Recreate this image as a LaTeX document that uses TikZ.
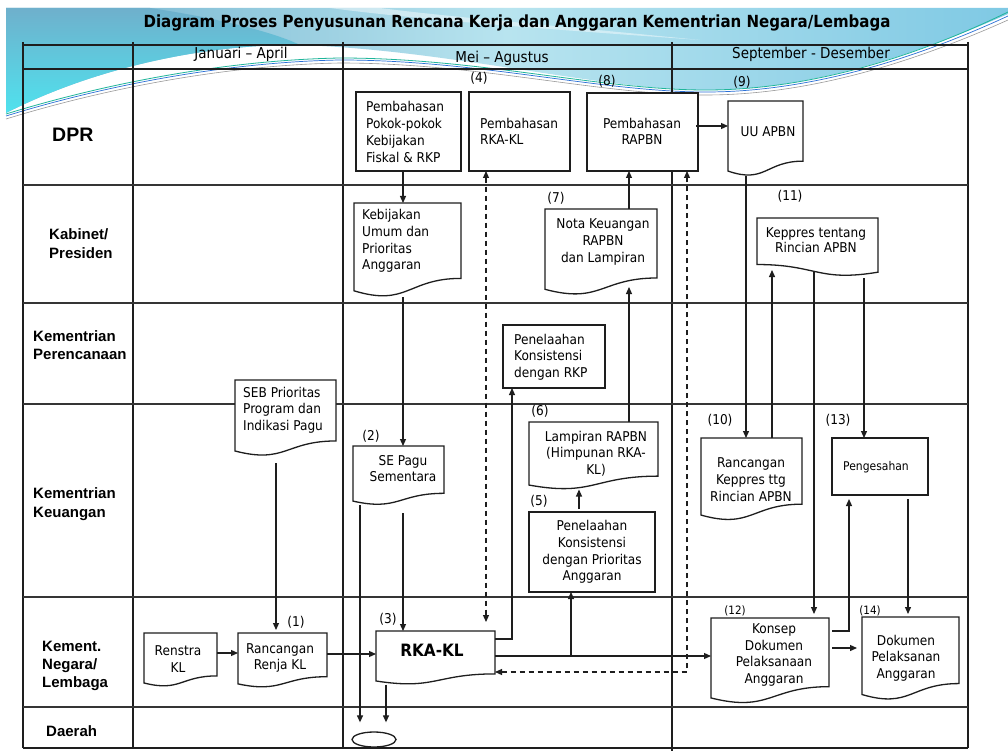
\documentclass[tikz,border=0pt]{standalone}
\usepackage{fontspec}
\setmainfont{DejaVu Sans Condensed}
\newfontfamily\labfont{Liberation Sans}
\usetikzlibrary{arrows.meta,shapes.geometric,calc}
\definecolor{bgA}{HTML}{6FB0CC}
\definecolor{bgB}{HTML}{B8E4EF}
\definecolor{bgC}{HTML}{7FC9E4}
\definecolor{bgD}{HTML}{4FE2EE}
\definecolor{lnk}{HTML}{1E1E1E}
\definecolor{swA}{HTML}{1FB59A}
\definecolor{swB}{HTML}{2A6FD6}
\definecolor{swC}{HTML}{9A9A9A}

\newcommand\docpath[4]{(#1,#2) -- ({#1+#3},#2) -- ({#1+#3},{#2+0.802*#4}) .. controls ({#1+0.5*#3},{#2+0.802*#4}) and ({#1+0.5*#3},{#2+1.107*#4}) .. (#1,{#2+0.934*#4}) -- cycle}
\newcommand\mdocpath[4]{(#1,#2) -- ({#1+#3},#2) -- ({#1+#3},{#2+0.934*#4}) .. controls ({#1+0.5*#3},{#2+1.107*#4}) and ({#1+0.5*#3},{#2+0.802*#4}) .. (#1,{#2+0.802*#4}) -- cycle}
\newcommand\docnode[5]{\draw[box] \docpath{#2}{#3}{#4}{#5}; \node[anch, minimum width=#4, minimum height=#5] (#1) at (#2,#3) {};}
\newcommand\mdocnode[5]{\draw[box] \mdocpath{#2}{#3}{#4}{#5}; \node[anch, minimum width=#4, minimum height=#5] (#1) at (#2,#3) {};}
\newcommand\boxnode[5]{\draw[box] (#2,#3) rectangle (#4,#5); \node[anch, minimum width={#4-#2}, minimum height={#5-#3}] (#1) at (#2,#3) {};}

\begin{document}
\begin{tikzpicture}[x=1pt,y=-1pt,
  box/.style={draw=lnk, line width=1.3pt, fill=white},
  tline/.style={line width=1.9pt, draw=lnk},
  rline/.style={line width=1.5pt, draw=lnk!90},
  conn/.style={line width=1.2pt, draw=lnk, -{Triangle[length=7pt,width=6pt]}},
  dconn/.style={line width=1.2pt, draw=lnk, {Triangle[length=7pt,width=6pt]}-{Triangle[length=7pt,width=6pt]}, dash pattern=on 5pt off 4pt},
  anch/.style={inner sep=0, outer sep=0, draw=none, anchor=north west},
  txt/.style={font=\fontsize{13.5}{16.7}\selectfont, align=left, inner sep=0},
  txtc/.style={txt, align=center},
  num/.style={font=\fontsize{13.5}{16}\selectfont, inner sep=0},
  hd/.style={font=\fontsize{15}{18}\selectfont, inner sep=0},
  lab/.style={font=\labfont\bfseries\fontsize{15}{18.5}\selectfont, align=left, anchor=west, inner sep=0},
]
\useasboundingbox (0,0) rectangle (1008,751);
\fill[white] (0,0) rectangle (1008,751);

% ---- slide background decoration
\shade[left color=bgA, right color=bgC, middle color=bgB] (6,8) -- (1008,8) -- (1008,14) .. controls (930,48) and (820,90) .. (706,90) .. controls (600,90) and (450,50) .. (300,45) .. controls (200,44) and (90,70) .. (6,113) -- cycle;
\shade[top color=bgA, bottom color=bgD] (6,8) -- (150,8) .. controls (230,20) and (280,35) .. (300,45) .. controls (200,44) and (90,70) .. (6,113) -- cycle;
\fill[white, opacity=0.45] (330,8) .. controls (420,20) and (560,30) .. (700,40) .. controls (560,26) and (440,16) .. (380,8) -- cycle;
\draw[swA, line width=0.8pt] (6,114) .. controls (110,82) and (230,60) .. (340,58) .. controls (480,58) and (600,90) .. (706,90) .. controls (820,90) and (930,50) .. (1008,12);
\draw[swB, line width=0.7pt] (6,116) .. controls (110,84) and (230,62) .. (340,60) .. controls (480,60) and (600,92) .. (706,92) .. controls (820,92) and (930,52) .. (1008,16);
\draw[swC, line width=0.6pt] (6,119) .. controls (110,87) and (230,65) .. (340,63) .. controls (480,63) and (600,95) .. (706,95) .. controls (820,95) and (930,55) .. (1008,20);

% ---- title
\node[font=\bfseries\fontsize{16.7}{19}\selectfont, inner sep=0] (title) at (517,23) {Diagram Proses Penyusunan Rencana Kerja dan Anggaran Kementrian Negara/Lembaga};

% ---- table
\foreach \xx in {23,133,343,968} \draw[tline] (\xx,42) -- (\xx,748);
\draw[tline] (672,42) -- (672,751);
\draw[tline] (23,45) -- (968,45);
\draw[tline] (23,69) -- (968,69);
\foreach \yy in {185,303,404,597,707} \draw[rline] (23,\yy) -- (968,\yy);
\draw[tline] (23,748) -- (968,748);

\node[hd] (h1) at (241,54) {Januari – April};
\node[hd] (h2) at (502,58) {Mei – Agustus};
\node[hd] (h3) at (811,54) {September - Desember};

% ---- row labels
\node[lab, font=\labfont\bfseries\fontsize{19.5}{22}\selectfont] (l1) at (52,135) {DPR};
\node[lab] (l2) at (49,243.5) {Kabinet/\\Presiden};
\node[lab] (l3) at (33,345) {Kementrian\\Perencanaan};
\node[lab] (l4) at (33,504) {Kementrian\\Keuangan};
\node[lab, font=\labfont\bfseries\fontsize{15}{18}\selectfont] (l5) at (42,666) {Kement.\\Negara/\\Lembaga};
\node[lab] (l6) at (46,731) {Daerah};

% ---- shapes
\boxnode{pokok}{356}{92}{461}{171}
\boxnode{rkdpr}{469}{92}{570}{171}
\boxnode{rapbn}{587}{93}{698}{171}
\boxnode{rkp}{503}{325}{605}{388}
\boxnode{prioritas}{529}{512}{655}{592}
\boxnode{pengesahan}{832}{438}{928}{495}
\docnode{uuapbn}{728}{101}{75}{75}
\docnode{kebijakan}{354}{203}{107}{94}
\docnode{nota}{545}{209}{112}{86}
\mdocnode{keppres}{757}{218}{121}{58}
\docnode{seb}{235}{380}{101}{76}
\docnode{sepagu}{353}{446}{91}{59}
\docnode{lampiran}{529}{422}{129}{67.5}
\docnode{rkeppres}{701}{438}{101}{82.5}
\docnode{renstra}{144}{633}{73}{53.5}
\docnode{renja}{238}{633}{89}{54.5}
\docnode{rkakl}{376}{631}{119}{53.5}
\docnode{konsep}{711}{618}{118}{85.6}
\docnode{dokumen}{862}{617}{97}{83}
\node[draw=lnk, line width=1.3pt, ellipse, minimum width=44, minimum height=15, inner sep=0] (daerah) at (374,739.5) {};

% ---- texts
\node[txt, anchor=west] (t1) at (366,132) {Pembahasan\\Pokok-pokok\\Kebijakan\\Fiskal \& RKP};
\node[txt, anchor=west] (t2) at (480,131.5) {Pembahasan\\RKA-KL};
\node[txtc] (t3) at (642,131.5) {Pembahasan\\RAPBN};
\node[txtc] (t4) at (768,132) {UU APBN};
\node[txt, anchor=west] (t5) at (362,241) {Kebijakan\\Umum dan\\Prioritas\\Anggaran};
\node[txtc] (t6) at (603,242) {Nota Keuangan\\RAPBN\\dan Lampiran};
\node[txtc, font=\fontsize{13.5}{15.5}\selectfont] (t7) at (816,240) {Keppres tentang\\Rincian APBN};
\node[txt, anchor=west] (t8) at (514,357) {Penelaahan\\Konsistensi\\dengan RKP};
\node[txt, anchor=west] (t9) at (243,410) {SEB Prioritas\\Program dan\\Indikasi Pagu};
\node[txtc] (t10) at (403,468.5) {SE Pagu\\Sementara};
\node[txtc] (t11) at (596,453.5) {Lampiran RAPBN\\(Himpunan RKA-\\KL)};
\node[txtc] (t12) at (592,552) {Penelaahan\\Konsistensi\\dengan Prioritas\\Anggaran};
\node[txtc] (t13) at (751,479.5) {Rancangan\\Keppres ttg\\Rincian APBN};
\node[txtc, font=\fontsize{12}{14}\selectfont] (t14) at (876,467) {Pengesahan};
\node[txtc] (t15) at (178,659) {Renstra\\KL};
\node[txtc] (t16) at (280,658) {Rancangan\\Renja KL};
\node[txtc, font=\bfseries\fontsize{17}{20}\selectfont] (t17) at (432,650) {RKA-KL};
\node[txtc] (t18) at (774,655) {Konsep\\Dokumen\\Pelaksanaan\\Anggaran};
\node[txtc] (t19) at (906,658) {Dokumen\\Pelaksanan\\Anggaran};

% ---- step numbers
\node[num] (n4) at (479,78) {(4)};
\node[num] (n8) at (607,81) {(8)};
\node[num] (n9) at (742,82) {(9)};
\node[num] (n7) at (556,198) {(7)};
\node[num] (n11) at (790,196) {(11)};
\node[num] (n2) at (371,436) {(2)};
\node[num] (n6) at (540,411) {(6)};
\node[num] (n5) at (539,501) {(5)};
\node[num] (n10) at (720,420) {(10)};
\node[num] (n13) at (838,420) {(13)};
\node[num] (n1) at (296,622) {(1)};
\node[num] (n3) at (388,619) {(3)};
\node[num, font=\fontsize{11.5}{13}\selectfont] (n12) at (735,611) {(12)};
\node[num, font=\fontsize{11.5}{13}\selectfont] (n14) at (870,611) {(14)};

% ---- connectors
\draw[conn] (pokok.south -| 403,0) -- (kebijakan.north -| 403,0);
\draw[conn] (kebijakan.south -| 403,0) -- (sepagu.north -| 403,0);
\draw[conn] (nota.north -| 629,0) -- (rapbn.south -| 629,0);
\draw[conn] (lampiran.north -| 629,0) -- ($(nota.south -| 629,0)+(0,-8)$);
\draw[conn] ($(prioritas.north -| 579,0)+(0,-3)$) -- (lampiran.south -| 579,0);
\draw[conn] ($(rapbn.east |- 0,126)+(-2,0)$) -- (uuapbn.west |- 0,126);
\draw[conn] (uuapbn.south -| 746,0) -- (rkeppres.north -| 746,0);
\draw[conn] (rkeppres.north -| 772,0) -- ($(keppres.south -| 772,0)+(0,-6)$);
\draw[conn] ($(keppres.south -| 814,0)+(0,-5)$) -- ($(konsep.north -| 814,0)+(0,-4)$);
\draw[conn] ($(keppres.south -| 864,0)+(0,2)$) -- (pengesahan.north -| 864,0);
\draw[conn] ($(konsep.east |- 0,631)+(3,0)$) -| ($(pengesahan.south -| 849,0)+(0,4)$);
\draw[conn] ($(konsep.east |- 0,648)+(3,0)$) -- ($(dokumen.west |- 0,648)+(-5,0)$);
\draw[conn] ($(pengesahan.south -| 908,0)+(0,4)$) -- ($(dokumen.north -| 908,0)+(0,-3)$);
\draw[conn] ($(seb.south -| 276,0)+(0,7)$) -- ($(renja.north -| 276,0)+(0,-3)$);
\draw[conn] (renstra.east |- 0,653) -- (renja.west |- 0,653);
\draw[conn] (renja.east |- 0,654) -- (rkakl.west |- 0,654);
\draw[conn] ($(sepagu.south -| 403,0)+(0,8)$) -- (rkakl.north -| 403,0);
\draw[conn] (sepagu.south -| 360,0) -- ($(daerah.north -| 360,0)+(0,-9)$);
\draw[conn] (rkakl.south -| 386,0) -- ($(daerah.north -| 386,0)+(0,-9)$);
\draw[conn] (rkakl.east |- 0,639) -| (rkp.south -| 512,0);
\draw[conn] (rkakl.east |- 0,656) -- (konsep.west |- 0,656);
\draw[conn] (rkakl.east |- 0,656) -| (prioritas.south -| 571,0);
\draw[dconn] (rkakl.east |- 0,672) -| (rapbn.south -| 687,0);
\draw[dconn] (rkdpr.south -| 486,0) -- ($(rkakl.north -| 486,0)+(0,-9)$);
\end{tikzpicture}
\end{document}
